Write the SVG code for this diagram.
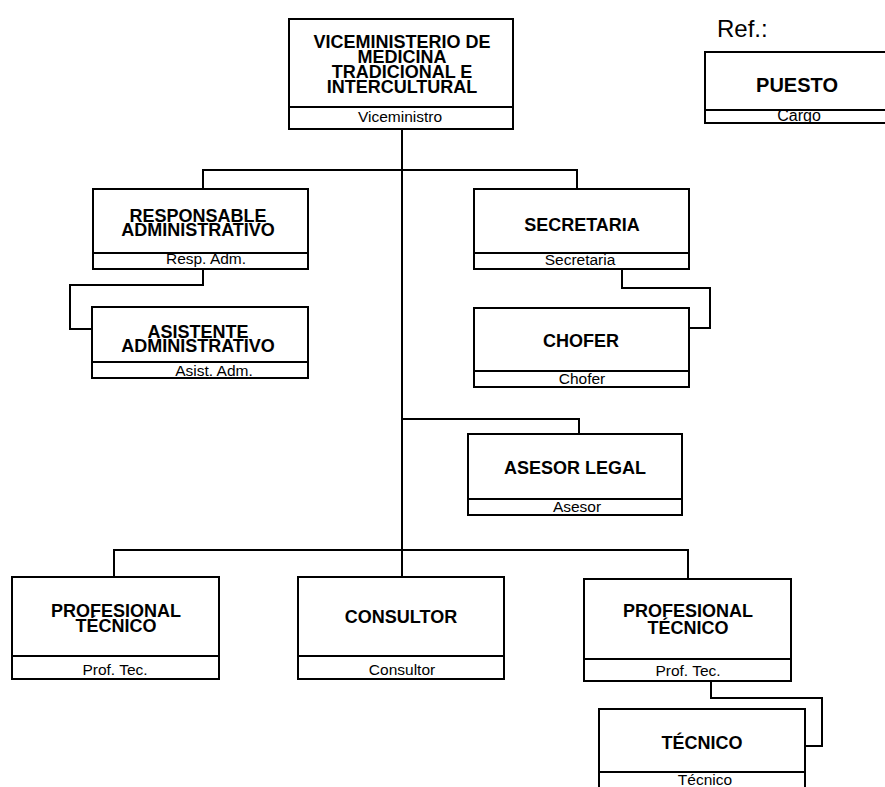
<svg xmlns="http://www.w3.org/2000/svg" width="885" height="787" viewBox="0 0 885 787">
<style>
.box{fill:#fff;stroke:#000;stroke-width:2}
.div{stroke:#000;stroke-width:2}
.conn{fill:none;stroke:#000;stroke-width:2}
.t{font-family:"Liberation Sans",Arial,sans-serif;font-weight:bold;font-size:18px;text-anchor:middle;fill:#000}
.s{font-family:"Liberation Sans",Arial,sans-serif;font-size:15.5px;text-anchor:middle;fill:#000}
</style>
<rect width="885" height="787" fill="#fff"/>
<g id="connectors">
<path class="conn" d="M402,129 V578"/>
<path class="conn" d="M203,189 V170 H577 V189"/>
<path class="conn" d="M203,269 V285 H70 V329 H92"/>
<path class="conn" d="M622,269 V288 H710 V328 H689"/>
<path class="conn" d="M402,419 H579 V434"/>
<path class="conn" d="M114,577 V550 H688 V579"/>
<path class="conn" d="M711,681 V698 H822 V746 H805"/>
</g>
<g id="ref">
<text x="717" y="37" font-family="Liberation Sans, Arial, sans-serif" font-size="24">Ref.:</text>
<rect class="box" x="705" y="52" width="185" height="71"/>
<line class="div" x1="705" y1="110" x2="890" y2="110"/>
<text class="t" x="797" y="92" style="font-size:20px">PUESTO</text>
<text class="s" x="799" y="121" style="font-size:16px">Cargo</text>
</g>
<g id="viceministerio">
<rect class="box" x="289" y="19" width="224" height="110"/>
<line class="div" x1="289" y1="107" x2="513" y2="107"/>
<text class="t" x="402" y="48">VICEMINISTERIO DE</text>
<text class="t" x="402" y="63">MEDICINA</text>
<text class="t" x="402" y="78">TRADICIONAL E</text>
<text class="t" x="402" y="93">INTERCULTURAL</text>
<text class="s" x="400" y="122">Viceministro</text>
</g>
<g id="responsable">
<rect class="box" x="93" y="189" width="215" height="80"/>
<line class="div" x1="93" y1="253" x2="308" y2="253"/>
<text class="t" x="198" y="222">RESPONSABLE</text>
<text class="t" x="198" y="236">ADMINISTRATIVO</text>
<text class="s" x="206" y="264">Resp. Adm.</text>
</g>
<g id="asistente">
<rect class="box" x="92" y="307" width="216" height="71"/>
<line class="div" x1="92" y1="362" x2="308" y2="362"/>
<text class="t" x="198" y="338">ASISTENTE</text>
<text class="t" x="198" y="352">ADMINISTRATIVO</text>
<text class="s" x="214" y="376">Asist. Adm.</text>
</g>
<g id="secretaria">
<rect class="box" x="474" y="189" width="215" height="80"/>
<line class="div" x1="474" y1="253" x2="689" y2="253"/>
<text class="t" x="582" y="231">SECRETARIA</text>
<text class="s" x="580" y="265">Secretaria</text>
</g>
<g id="chofer">
<rect class="box" x="474" y="308" width="215" height="79"/>
<line class="div" x1="474" y1="371" x2="689" y2="371"/>
<text class="t" x="581" y="347">CHOFER</text>
<text class="s" x="582" y="384">Chofer</text>
</g>
<g id="asesor">
<rect class="box" x="468" y="434" width="214" height="81"/>
<line class="div" x1="468" y1="499" x2="682" y2="499"/>
<text class="t" x="575" y="474">ASESOR LEGAL</text>
<text class="s" x="577" y="512">Asesor</text>
</g>
<g id="profesional1">
<rect class="box" x="12" y="577" width="207" height="102"/>
<line class="div" x1="12" y1="656" x2="219" y2="656"/>
<text class="t" x="116" y="617">PROFESIONAL</text>
<text class="t" x="116" y="632">TÉCNICO</text>
<text class="s" x="115" y="675">Prof. Tec.</text>
</g>
<g id="consultor">
<rect class="box" x="298" y="577" width="206" height="102"/>
<line class="div" x1="298" y1="656" x2="504" y2="656"/>
<text class="t" x="401" y="623">CONSULTOR</text>
<text class="s" x="402" y="675">Consultor</text>
</g>
<g id="profesional2">
<rect class="box" x="584" y="579" width="207" height="102"/>
<line class="div" x1="584" y1="659" x2="791" y2="659"/>
<text class="t" x="688" y="617">PROFESIONAL</text>
<text class="t" x="688" y="634">TÉCNICO</text>
<text class="s" x="688" y="676">Prof. Tec.</text>
</g>
<g id="tecnico">
<rect class="box" x="599" y="709" width="206" height="90"/>
<line class="div" x1="599" y1="772" x2="805" y2="772"/>
<text class="t" x="702" y="749">TÉCNICO</text>
<text class="s" x="705" y="785">Técnico</text>
</g>
</svg>
